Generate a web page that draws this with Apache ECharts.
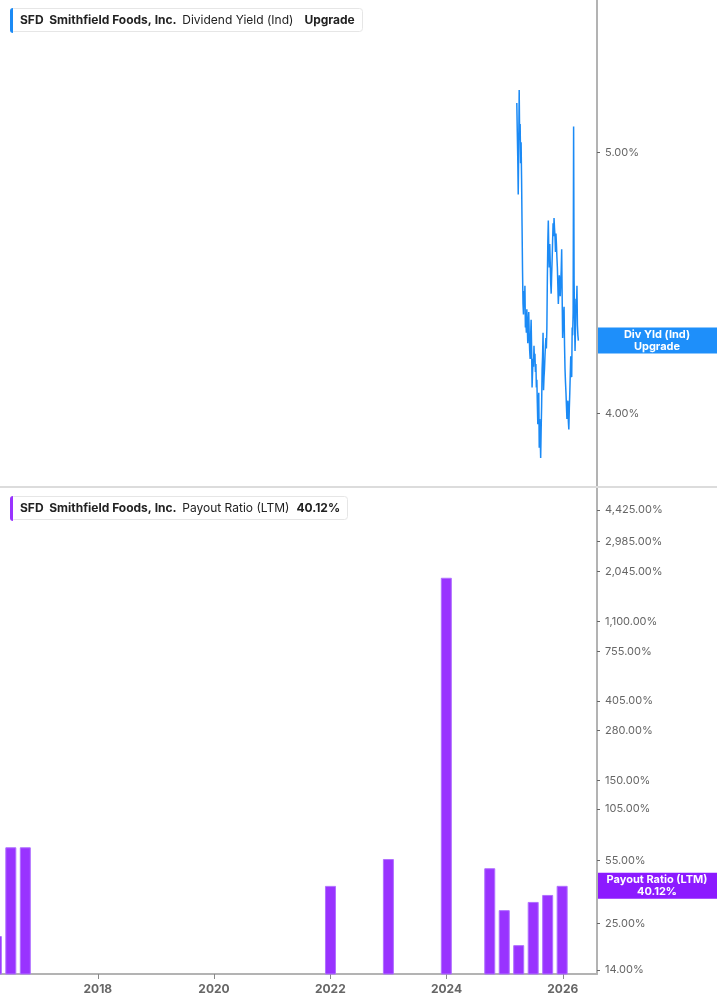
<!DOCTYPE html>
<html>
<head>
<meta charset="utf-8">
<script src="https://cdn.jsdelivr.net/npm/echarts@6/dist/echarts.min.js"></script>
<style>
html, body { margin: 0; padding: 0; background: #fff; }
#main { width: 717px; height: 1005px; }
</style>
</head>
<body>
<div id="main"></div>
<script>
// dividend yield (ind), one reading every 3 days from the start date
var yieldStart = '2025-03-18';
var yieldStepDays = 3;
var yieldValues = [
    5.19, 5.08, 4.98, 4.84, 5.02, 5.24, 5.05, 5.11, 4.96, 5.04,
    4.90, 4.72, 4.55, 4.42, 4.38, 4.47, 4.41, 4.49, 4.33, 4.36,
    4.31, 4.40, 4.33, 4.27, 4.34, 4.39, 4.30, 4.24, 4.21, 4.30,
    4.36, 4.25, 4.10, 4.16, 4.21, 4.18, 4.26, 4.20, 4.23, 4.16,
    4.19, 4.10, 4.13, 4.04, 3.96, 4.02, 4.08, 3.87, 3.98, 3.91,
    3.83, 3.94, 4.03, 4.17, 4.22, 4.31, 4.09, 4.14, 4.17, 4.22,
    4.26, 4.29, 4.25, 4.33, 4.52, 4.66, 4.74, 4.63, 4.56, 4.65,
    4.58, 4.50, 4.46, 4.53, 4.59, 4.66, 4.73, 4.68, 4.75, 4.71,
    4.68, 4.62, 4.69, 4.65, 4.60, 4.56, 4.49, 4.42, 4.47, 4.53,
    4.51, 4.45, 4.45, 4.55, 4.63, 4.45, 4.29, 4.35, 4.38, 4.41,
    4.26, 4.17, 4.12, 4.08, 4.03, 3.98, 4.01, 4.05, 3.97, 3.94,
    4.02, 4.08, 4.15, 4.22, 4.18, 4.14, 4.33, 4.30, 4.39, 5.10,
    4.51, 4.36, 4.24, 4.33, 4.44, 4.40, 4.49, 4.34, 4.30, 4.28
];

// payout ratio (LTM), percent
var payoutDates = ['2016-04-03', '2016-07-03', '2016-10-02', '2022-01-02', '2023-01-01', '2023-12-31',
    '2024-09-29', '2024-12-29', '2025-03-30', '2025-06-29', '2025-09-28', '2025-12-28'];
var payoutValues = [21.4, 65, 65, 40.1, 56.1, 1896, 50, 29.6, 19.1, 32.8, 35.8, 40.12];

var yearTicks = ['2018-01-01', '2020-01-01', '2022-01-01', '2024-01-01', '2026-01-01'];
var yieldTicks = [4, 5];
var payoutTicks = [14, 25, 55, 105, 150, 280, 405, 755, 1100, 2045, 2985, 4425];

var xMin = '2016-04-26';
var xMax = '2026-08-04';

var BLUE = '#1b8af5';
var PURPLE = '#9933ff';
var AXIS = '#b3b3b3';
var FONT = 'Inter, "Noto Sans", sans-serif';

var chart = echarts.init(document.getElementById('main'));

var dayMs = 86400000;
function ms (d) { return +echarts.time.parse(d); }
var startMs = ms(yieldStart);
var yieldData = yieldValues.map(function (v, i) {
    return [startMs + i * yieldStepDays * dayMs, v];
});
var payoutData = payoutDates.map(function (d, i) {
    return [ms(d), payoutValues[i]];
});
var yearTickMs = yearTicks.map(ms);

function pct (v) {
    return Number(v).toLocaleString('en-US', { minimumFractionDigits: 2, maximumFractionDigits: 2 }) + '%';
}

function legendTitle (top, metric, value, valueGap) {
    return {
        left: 10,
        top: top,
        text: '{t|SFD}  {b|Smithfield Foods, Inc.}  {n|' + metric + '}{v|' + value + '}',
        padding: [6, 8, 6, 10],
        backgroundColor: '#fff',
        borderColor: '#e6e6e6',
        borderWidth: 1,
        borderRadius: 3,
        textStyle: {
            fontSize: 12,
            fontFamily: FONT,
            rich: {
                t: { fontSize: 12, fontWeight: 'bold', color: '#222', fontFamily: FONT },
                b: { fontSize: 12, fontWeight: 'bold', color: '#222', fontFamily: FONT },
                n: { fontSize: 12, fontWeight: 'normal', color: '#222', fontFamily: FONT },
                v: { fontSize: 12, fontWeight: 'bold', color: '#222', fontFamily: FONT, padding: [0, 0, 0, valueGap] }
            }
        }
    };
}

var valueLabel = { color: '#666', fontSize: 11, fontFamily: FONT, margin: 8 };

var option = {
    animation: false,
    backgroundColor: '#fff',
    title: [
        legendTitle(8, 'Dividend Yield (Ind)', 'Upgrade', 11),
        legendTitle(496, 'Payout Ratio (LTM)', pct(payoutValues[payoutValues.length - 1]), 7)
    ],
    grid: [
        { left: 0, right: 120, top: 0, height: 486 },
        { left: 0, right: 120, top: 488, height: 486 }
    ],
    xAxis: [{
        gridIndex: 0,
        type: 'value',
        min: ms(xMin),
        max: ms(xMax),
        axisLine: { show: false },
        axisTick: { show: false },
        axisLabel: { show: false },
        splitLine: { show: false }
    }, {
        gridIndex: 1,
        type: 'value',
        min: ms(xMin),
        max: ms(xMax),
        axisLine: { lineStyle: { color: AXIS, width: 2 } },
        axisTick: { show: true, customValues: yearTickMs, length: 5, lineStyle: { color: '#888' } },
        axisLabel: {
            customValues: yearTickMs,
            formatter: function (v) { return String(new Date(v).getFullYear()); },
            color: '#666',
            fontSize: 12,
            fontWeight: 'bold',
            fontFamily: FONT,
            margin: 9
        },
        splitLine: { show: false }
    }],
    yAxis: [{
        gridIndex: 0,
        type: 'value',
        position: 'right',
        min: 3.723,
        max: 5.585,
        axisLine: { show: true, lineStyle: { color: AXIS, width: 2 } },
        axisTick: { show: true, customValues: yieldTicks, length: 3, lineStyle: { color: '#666' } },
        axisLabel: Object.assign({ customValues: yieldTicks, formatter: pct }, valueLabel),
        splitLine: { show: false }
    }, {
        gridIndex: 1,
        type: 'log',
        position: 'right',
        min: 13.31,
        max: 5830,
        axisLine: { show: true, lineStyle: { color: AXIS, width: 2 } },
        axisTick: { show: true, customValues: payoutTicks, length: 3, lineStyle: { color: '#666' } },
        axisLabel: Object.assign({ customValues: payoutTicks, formatter: pct }, valueLabel),
        splitLine: { show: false },
        minorSplitLine: { show: false }
    }],
    series: [{
        type: 'line',
        xAxisIndex: 0,
        yAxisIndex: 0,
        data: yieldData,
        showSymbol: false,
        lineStyle: { color: BLUE, width: 1.5 },
        itemStyle: { color: BLUE }
    }, {
        type: 'bar',
        xAxisIndex: 1,
        yAxisIndex: 1,
        data: payoutData,
        barWidth: 11,
        itemStyle: { color: PURPLE, borderColor: '#b070ff', borderWidth: 1 }
    }]
};

chart.setOption(option);

// last value boxes on the right axes
var lastYield = yieldValues[yieldValues.length - 1];
var lastPayout = payoutValues[payoutValues.length - 1];
var yBlue = chart.convertToPixel({ yAxisIndex: 0 }, lastYield);
var yPurple = chart.convertToPixel({ yAxisIndex: 1 }, lastPayout);

function valueBox (y, color, text) {
    return [{
        type: 'rect',
        z: 100,
        shape: { x: 598, y: y - 13, width: 119, height: 26 },
        style: { fill: color }
    }, {
        type: 'text',
        z: 101,
        x: 657,
        y: y,
        style: {
            text: text,
            fill: '#fff',
            font: 'bold 11px ' + FONT,
            align: 'center',
            verticalAlign: 'middle',
            lineHeight: 12
        }
    }];
}

chart.setOption({
    graphic: [{
        type: 'line',
        z: 50,
        shape: { x1: 0, y1: 487, x2: 717, y2: 487 },
        style: { stroke: '#dcdcdc', lineWidth: 2 }
    }, {
        type: 'rect',
        z: 60,
        shape: { x: 10, y: 8, width: 3, height: 25, r: [3, 0, 0, 3] },
        style: { fill: BLUE }
    }, {
        type: 'rect',
        z: 60,
        shape: { x: 10, y: 496, width: 3, height: 25, r: [3, 0, 0, 3] },
        style: { fill: PURPLE }
    }].concat(
        valueBox(yBlue, '#1e8ffa', 'Div Yld (Ind)\nUpgrade'),
        valueBox(yPurple, '#8c1aff', 'Payout Ratio (LTM)\n' + pct(lastPayout))
    )
});
</script>
</body>
</html>
